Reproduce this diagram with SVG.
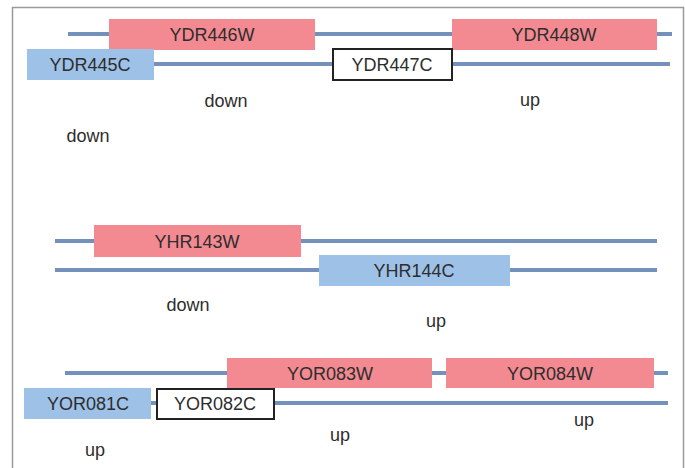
<svg xmlns="http://www.w3.org/2000/svg" width="685" height="468" viewBox="0 0 685 468">
<style>
text{font-family:"Liberation Sans",Arial,sans-serif;font-size:18px;fill:#2d2d2d;text-anchor:middle}
.strand{stroke:#7391bb;stroke-width:4;fill:none}
.w{fill:#f38a92}
.c{fill:#9ec1e7}
.n{fill:#ffffff;stroke:#222;stroke-width:2}
</style>
<rect x="12.5" y="7.5" width="671" height="470" fill="#fff" stroke="#9a9a9a" stroke-width="1.5"/>
<g id="connectors">
<line class="strand" x1="68" y1="34" x2="672" y2="34"/>
<line class="strand" x1="100" y1="64" x2="670" y2="64"/>
<line class="strand" x1="55" y1="241" x2="657" y2="241"/>
<line class="strand" x1="55" y1="270" x2="657" y2="270"/>
<line class="strand" x1="65" y1="373" x2="668" y2="373"/>
<line class="strand" x1="100" y1="403" x2="668" y2="403"/>
</g>
<g id="YDR446W"><rect class="w" x="109" y="19" width="206" height="31"/><text x="212" y="41">YDR446W</text></g>
<g id="YDR448W"><rect class="w" x="452" y="19" width="205" height="31"/><text x="554" y="41">YDR448W</text></g>
<g id="YDR445C"><rect class="c" x="27" y="49" width="127" height="31"/><text x="90" y="71">YDR445C</text></g>
<g id="YDR447C"><rect class="n" x="333" y="49" width="119" height="31"/><text x="392" y="71">YDR447C</text></g>
<g id="YHR143W"><rect class="w" x="94" y="225" width="207" height="32"/><text x="197" y="248">YHR143W</text></g>
<g id="YHR144C"><rect class="c" x="319" y="255" width="191" height="31"/><text x="414" y="277">YHR144C</text></g>
<g id="YOR083W"><rect class="w" x="227" y="358" width="205" height="30"/><text x="330" y="380">YOR083W</text></g>
<g id="YOR084W"><rect class="w" x="446" y="358" width="208" height="30"/><text x="550" y="380">YOR084W</text></g>
<g id="YOR081C"><rect class="c" x="24" y="388" width="127" height="31"/><text x="88" y="410">YOR081C</text></g>
<g id="YOR082C"><rect class="n" x="157" y="389" width="117" height="30"/><text x="215" y="410">YOR082C</text></g>
<g id="labels">
<text x="226" y="107">down</text>
<text x="530" y="106">up</text>
<text x="88" y="142">down</text>
<text x="188" y="311">down</text>
<text x="436" y="327">up</text>
<text x="95" y="456">up</text>
<text x="340" y="441">up</text>
<text x="584" y="426">up</text>
</g>
</svg>
